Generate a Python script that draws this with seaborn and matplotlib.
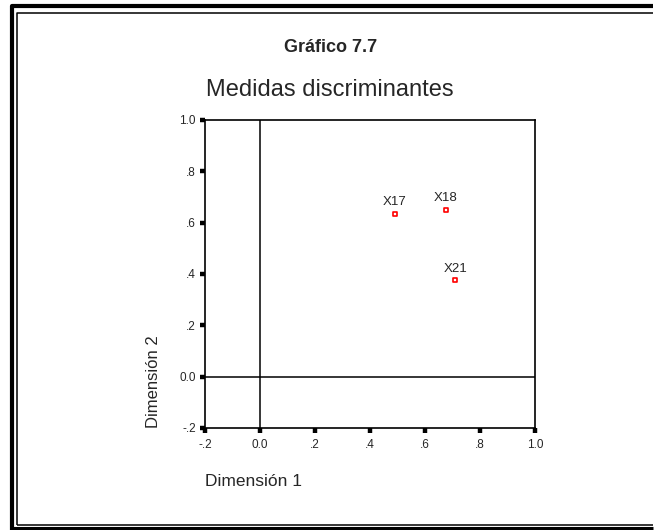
import pandas as pd
import seaborn as sns
import matplotlib.pyplot as plt
from matplotlib.lines import Line2D

# values
variables = ['X17', 'X18', 'X21']
dim1 = [0.49, 0.675, 0.71]
dim2 = [0.635, 0.65, 0.375]
tick_values = [-0.2, 0.0, 0.2, 0.4, 0.6, 0.8, 1.0]
tick_labels = ['-.2', '0.0', '.2', '.4', '.6', '.8', '1.0']

df = pd.DataFrame({'Variable': variables, 'Dimensión 1': dim1, 'Dimensión 2': dim2})

sns.set_style('white')
plt.rcParams['font.family'] = ['Liberation Sans', 'DejaVu Sans']

W, H = 661, 530
fig = plt.figure(figsize=(W / 100, H / 100), dpi=100)


def px_line(xs, ys, lw):
    # frame lines given in pixel coordinates (y from top)
    fig.lines.append(Line2D([x / W for x in xs], [1 - y / H for y in ys],
                            transform=fig.transFigure, color='black',
                            linewidth=lw, solid_capstyle='butt'))


# double frame (no right side, it is cut off in the original)
px_line([12, 12, 653], [530, 5.5, 5.5], 3.0)
px_line([16.5, 16.5, 653], [524.5, 12.5, 12.5], 1.1)
px_line([16.5, 653], [524.5, 524.5], 1.1)
px_line([12, 653], [527.5, 527.5], 2.2)

ax = fig.add_axes([205 / W, 1 - 428 / H, 330 / W, 308 / H])
sns.scatterplot(data=df, x='Dimensión 1', y='Dimensión 2', ax=ax,
                marker='s', s=9, facecolor='white', edgecolor='red',
                linewidth=1.2, zorder=3)
for _, r in df.iterrows():
    ax.annotate(r['Variable'], (r['Dimensión 1'], r['Dimensión 2']),
                xytext=(0, 4), textcoords='offset points', ha='center',
                va='bottom', fontsize=9.5)

ax.axhline(0, color='black', linewidth=1.1, zorder=1)
ax.axvline(0, color='black', linewidth=1.1, zorder=1)

ax.set_xlim(-0.2, 1.0)
ax.set_ylim(-0.2, 1.0)
ax.set_xticks(tick_values)
ax.set_xticklabels(tick_labels)
ax.set_yticks(tick_values)
ax.set_yticklabels(tick_labels)
ax.tick_params(axis='both', which='major', bottom=True, left=True,
               direction='out', length=3.5, width=3.2, color='black',
               labelsize=8.5)
ax.tick_params(axis='x', pad=4.5)
ax.tick_params(axis='y', pad=3)
for sp in ax.spines.values():
    sp.set_color('black')
    sp.set_linewidth(1.2)
ax.set_xlabel('')
ax.set_ylabel('')

fig.text(331 / W, 1 - 48 / H, 'Gráfico 7.7', ha='center', va='center',
         fontsize=13, fontweight='bold')
fig.text(330 / W, 1 - 90 / H, 'Medidas discriminantes', ha='center',
         va='center', fontsize=17)
fig.text(153 / W, 1 - 382 / H, 'Dimensión 2', ha='center', va='center',
         rotation=90, fontsize=12)
fig.text(205 / W, 1 - 482 / H, 'Dimensión 1', ha='left', va='center',
         fontsize=12.5)

fig.savefig('out.png', dpi=100)
